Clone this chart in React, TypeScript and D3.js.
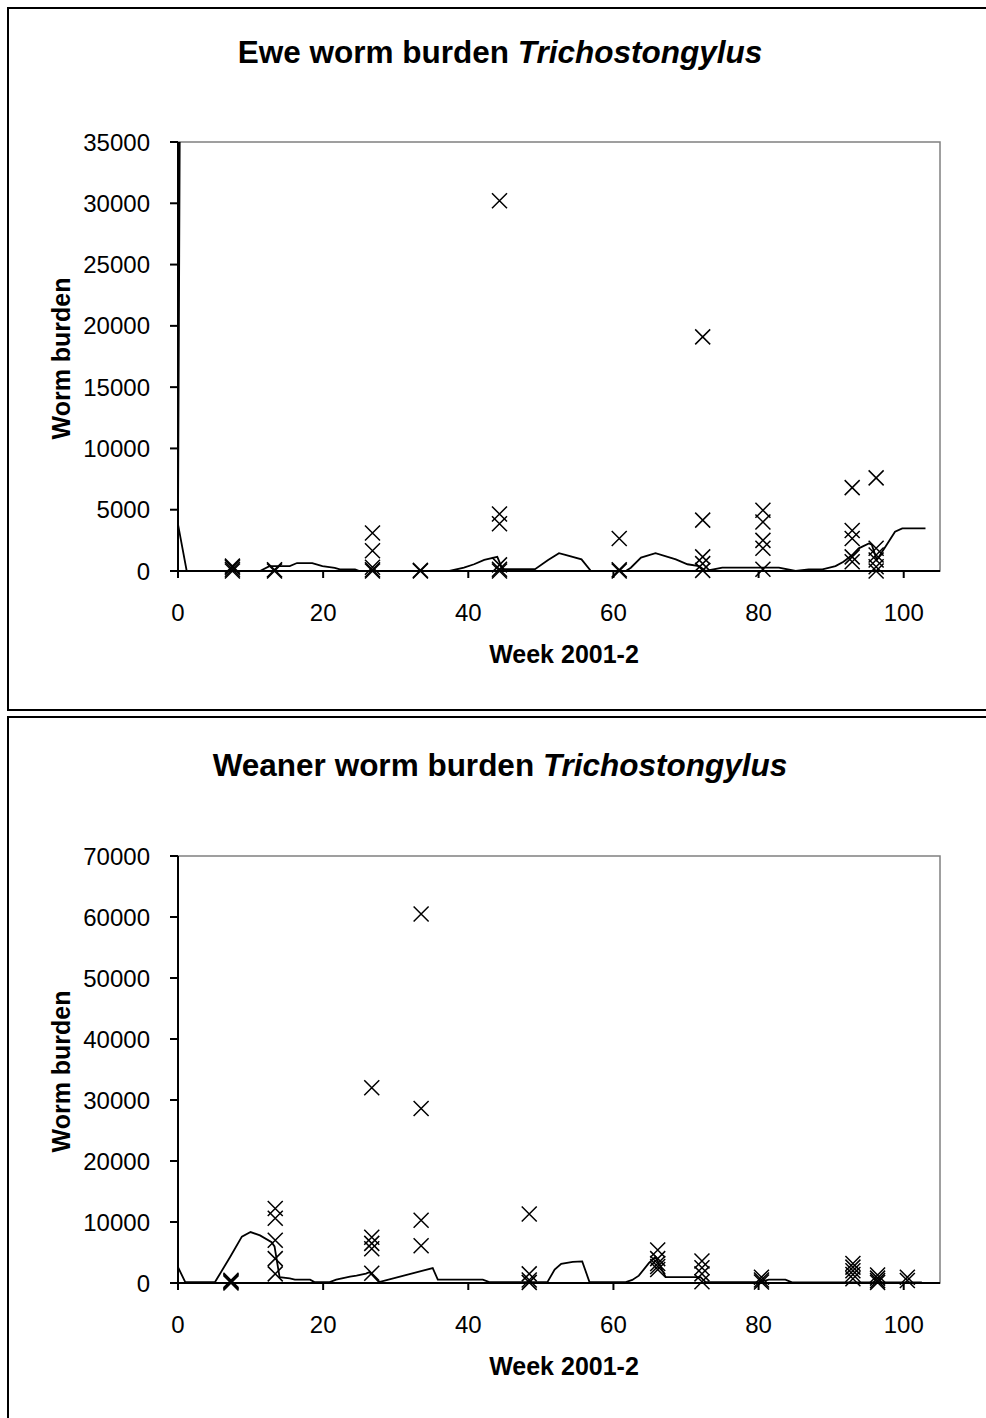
import React from "react";
import * as d3 from "d3";

// ---------- Ewe (top chart) ----------
const eweSampleWeeks = [
  7.5, 7.5, 7.5, 7.5,
  13.3, 13.3,
  26.8, 26.8, 26.8, 26.8, 26.8,
  33.4, 33.4,
  44.3, 44.3, 44.3, 44.3, 44.3, 44.3,
  60.8, 60.8, 60.8,
  72.3, 72.3, 72.3, 72.3, 72.3,
  80.6, 80.6, 80.6, 80.6, 80.6,
  92.9, 92.9, 92.9, 92.9, 92.9,
  96.2, 96.2, 96.2, 96.2, 96.2, 96.2,
];
const eweSampleBurdens = [
  0, 150, 300, 400,
  0, 100,
  3100, 1650, 300, 100, 0,
  0, 50,
  30200, 4650, 3850, 500, 150, 0,
  2650, 100, 0,
  19100, 4150, 1150, 600, 50,
  4950, 4000, 2500, 1850, 150,
  6800, 3300, 2650, 1150, 750,
  7600, 1850, 1300, 900, 350, 0,
];
const eweModelWeeks = [
  0.25, 0, 1.2, 11.3, 12.6, 15.4, 16.4, 18.5, 19.9, 21.6, 22.3, 24.4, 25.0, 37.4,
  39.4, 40.8, 42.2, 44.0, 44.7, 49.2, 51.0, 52.5, 53.5, 55.6, 56.9, 61.7, 62.4,
  63.8, 65.8, 68.6, 70.2, 71.8, 72.7, 75.0, 82.8, 85.1, 86.9, 88.8, 90.6, 91.7,
  92.9, 93.8, 95.2, 95.6, 96.3, 97.5, 98.8, 99.8, 103.0,
];
const eweModelBurdens = [
  37000, 3800, 0, 0, 400, 400, 650, 650, 400, 250, 130, 130, 0, 0,
  270, 550, 900, 1150, 150, 150, 900, 1450, 1300, 950, 0, 0, 270,
  1090, 1450, 950, 550, 400, 0, 270, 270, 0, 130, 130, 400, 750,
  1300, 1850, 2250, 2150, 900, 2000, 3200, 3480, 3480,
];
const eweYTicks = [0, 5000, 10000, 15000, 20000, 25000, 30000, 35000];

// ---------- Weaner (bottom chart) ----------
const weanerSampleWeeks = [
  7.3, 7.3, 7.3, 7.3,
  13.4, 13.4, 13.4, 13.4, 13.4,
  26.7, 26.7, 26.7, 26.7, 26.7,
  33.5, 33.5, 33.5, 33.5,
  48.4, 48.4, 48.4, 48.4,
  66.1, 66.1, 66.1, 66.1, 66.1,
  72.2, 72.2, 72.2, 72.2,
  80.4, 80.4, 80.4,
  93.0, 93.0, 93.0, 93.0, 93.0,
  96.4, 96.4, 96.4, 96.4,
  100.5, 100.5,
];
const weanerSampleBurdens = [
  0, 150, 300, 450,
  12200, 10600, 7000, 4000, 1500,
  32000, 7500, 6500, 5600, 1600,
  60500, 28600, 10300, 6100,
  11300, 1500, 500, 100,
  5400, 4000, 3200, 2700, 2200,
  3600, 2500, 1500, 200,
  950, 500, 150,
  3200, 2600, 2000, 1400, 700,
  1300, 800, 400, 100,
  950, 400,
];
const weanerModelWeeks = [
  0, 1, 5.1, 7.2, 8.8, 10.0, 11.3, 12.9, 13.3, 14.0, 15.4, 16.1, 18.2, 18.8,
  20.9, 21.8, 23.7, 24.6, 25.9, 26.4, 27.7, 35.1, 35.8, 42.0, 42.9, 50.9, 51.9,
  52.8, 54.4, 55.7, 56.7, 61.7, 62.6, 63.5, 64.9, 65.8, 67.2, 72.0, 72.7, 80.1,
  81.4, 83.7, 84.6, 102.5,
];
const weanerModelBurdens = [
  2600, 150, 150, 4300, 7600, 8350, 7800, 6700, 6000, 950, 750, 550, 550, 150,
  150, 550, 1050, 1200, 1550, 1800, 150, 2450, 550, 550, 150, 150, 2200,
  3150, 3450, 3550, 150, 150, 500, 1200, 3300, 4300, 950, 950, 150, 150,
  550, 550, 100, 100,
];
const weanerYTicks = [0, 10000, 20000, 30000, 40000, 50000, 60000, 70000];

const xTicks = [0, 20, 40, 60, 80, 100];
const xMax = 105;

const FONT = "'Liberation Sans', Arial, Helvetica, sans-serif";

type PanelProps = {
  id: string;
  titleMain: string;
  titleItalic: string;
  titleY: number;
  plotTop: number;
  plotBottom: number;
  yMax: number;
  yTicks: number[];
  sampleWeeks: number[];
  sampleBurdens: number[];
  modelWeeks: number[];
  modelBurdens: number[];
};

function Panel(p: PanelProps) {
  const left = 178;
  const right = 940;
  const x = d3.scaleLinear().domain([0, xMax]).range([left, right]);
  const y = d3.scaleLinear().domain([0, p.yMax]).range([p.plotBottom, p.plotTop]);
  const modelPts: [number, number][] = p.modelWeeks.map((w, i) => [w, p.modelBurdens[i]]);
  const line = d3
    .line<[number, number]>()
    .x((d) => x(d[0]))
    .y((d) => y(d[1]));
  const m = 7.5;
  return (
    <g>
      <defs>
        <clipPath id={p.id + "-clip"}>
          <rect x={left} y={p.plotTop} width={right - left} height={p.plotBottom - p.plotTop} />
        </clipPath>
      </defs>
      <text
        x={500}
        y={p.titleY}
        textAnchor="middle"
        fontFamily={FONT}
        fontWeight="bold"
        fontSize={31.5}
      >
        {p.titleMain}
        <tspan fontStyle="italic">{p.titleItalic}</tspan>
      </text>
      {/* plot area border */}
      <rect
        x={left}
        y={p.plotTop}
        width={right - left}
        height={p.plotBottom - p.plotTop}
        fill="#fff"
        stroke="#808080"
        strokeWidth={1.5}
      />
      {/* model line */}
      <path
        d={line(modelPts) || ""}
        fill="none"
        stroke="#000"
        strokeWidth={1.8}
        clipPath={`url(#${p.id}-clip)`}
      />
      {/* samples */}
      {p.sampleWeeks.map((w, i) => {
        const cx = x(w);
        const cy = y(p.sampleBurdens[i]);
        return (
          <path
            key={i}
            d={`M${cx - m},${cy - m}L${cx + m},${cy + m}M${cx - m},${cy + m}L${cx + m},${cy - m}`}
            stroke="#000"
            strokeWidth={1.5}
            fill="none"
          />
        );
      })}
      {/* axes */}
      <line x1={left} x2={right} y1={p.plotBottom} y2={p.plotBottom} stroke="#000" strokeWidth={2} />
      <line x1={left} x2={left} y1={p.plotTop} y2={p.plotBottom} stroke="#000" strokeWidth={2} />
      {p.yTicks.map((t) => (
        <g key={"y" + t}>
          <line x1={left - 8} x2={left} y1={y(t)} y2={y(t)} stroke="#000" strokeWidth={2} />
          <text
            x={150}
            y={y(t)}
            dy="0.36em"
            textAnchor="end"
            fontFamily={FONT}
            fontSize={24}
          >
            {t}
          </text>
        </g>
      ))}
      {xTicks.map((t) => (
        <g key={"x" + t}>
          <line x1={x(t)} x2={x(t)} y1={p.plotBottom} y2={p.plotBottom + 7} stroke="#000" strokeWidth={2} />
          <text
            x={x(t)}
            y={p.plotBottom + 50}
            textAnchor="middle"
            fontFamily={FONT}
            fontSize={24}
          >
            {t}
          </text>
        </g>
      ))}
      <text
        x={564}
        y={p.plotBottom + 92}
        textAnchor="middle"
        fontFamily={FONT}
        fontWeight="bold"
        fontSize={25}
      >
        Week 2001-2
      </text>
      <text
        transform={`translate(70,${(p.plotTop + p.plotBottom) / 2 + 2}) rotate(-90)`}
        textAnchor="middle"
        fontFamily={FONT}
        fontWeight="bold"
        fontSize={25}
      >
        Worm burden
      </text>
    </g>
  );
}

export default function App() {
  return (
    <svg
      width={986}
      height={1418}
      style={{ position: "absolute", left: 0, top: 0, background: "#fff" }}
    >
      <rect x={0} y={0} width={986} height={1418} fill="#fff" />
      <rect x={8} y={8} width={1000} height={702} fill="#fff" stroke="#000" strokeWidth={2} />
      <rect x={8} y={717} width={1000} height={720} fill="#fff" stroke="#000" strokeWidth={2} />
      <Panel
        id="ewe"
        titleMain="Ewe worm burden "
        titleItalic="Trichostongylus"
        titleY={63}
        plotTop={142}
        plotBottom={571}
        yMax={35000}
        yTicks={eweYTicks}
        sampleWeeks={eweSampleWeeks}
        sampleBurdens={eweSampleBurdens}
        modelWeeks={eweModelWeeks}
        modelBurdens={eweModelBurdens}
      />
      <Panel
        id="weaner"
        titleMain="Weaner worm burden  "
        titleItalic="Trichostongylus"
        titleY={776}
        plotTop={856}
        plotBottom={1283}
        yMax={70000}
        yTicks={weanerYTicks}
        sampleWeeks={weanerSampleWeeks}
        sampleBurdens={weanerSampleBurdens}
        modelWeeks={weanerModelWeeks}
        modelBurdens={weanerModelBurdens}
      />
    </svg>
  );
}
